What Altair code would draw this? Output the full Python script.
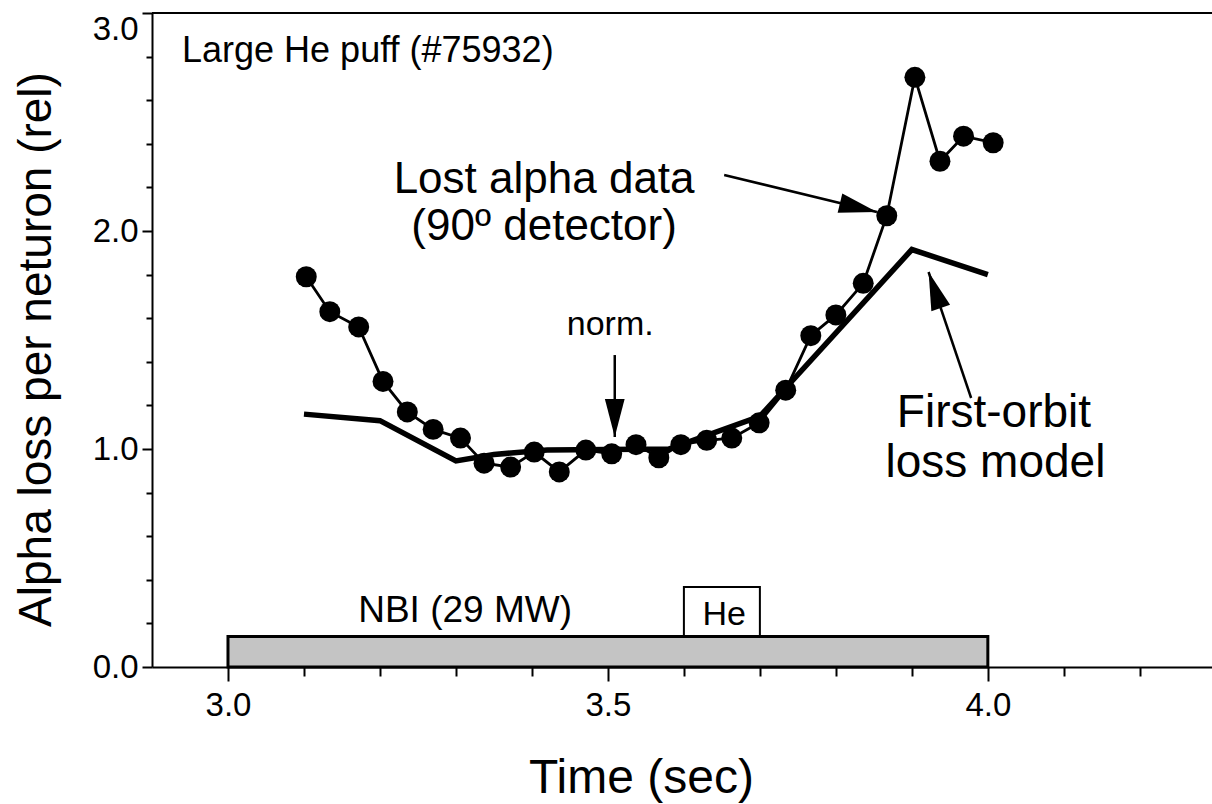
import math
import altair as alt
import pandas as pd

# ---- data ----
t_data = [3.103, 3.134, 3.172, 3.204, 3.236, 3.270, 3.306, 3.337, 3.372, 3.403,
          3.436, 3.471, 3.505, 3.537, 3.567, 3.596, 3.630, 3.663, 3.699, 3.734,
          3.767, 3.800, 3.836, 3.867, 3.904, 3.937, 3.968, 4.007]
v_data = [1.79, 1.63, 1.56, 1.31, 1.17, 1.09, 1.05, 0.935, 0.917, 0.986,
          0.895, 0.995, 0.978, 1.02, 0.96, 1.02, 1.04, 1.05, 1.12, 1.27,
          1.52, 1.615, 1.76, 2.07, 2.705, 2.32, 2.435, 2.405]

t_model = [3.10, 3.20, 3.30, 3.35, 3.42, 3.58, 3.70, 3.90, 4.00]
v_model = [1.16, 1.13, 0.945, 0.975, 0.995, 1.00, 1.15, 1.915, 1.80]

x_ticks = [3.0, 3.1, 3.2, 3.3, 3.4, 3.5, 3.6, 3.7, 3.8, 3.9, 4.0, 4.1, 4.2]
y_ticks = [0.0, 0.2, 0.4, 0.6, 0.8, 1.0, 1.2, 1.4, 1.6, 1.8, 2.0, 2.2, 2.4, 2.6, 2.8, 3.0]

nbi_start, nbi_end, nbi_level = [3.0], [4.0], [0.14]
he_start, he_end, he_bottom, he_top = [3.6], [3.7], [0.14], [0.367]

arrow_t0 = [3.653, 3.509, 3.978]
arrow_v0 = [2.257, 1.431, 1.234]
arrow_t1 = [3.854, 3.509, 3.922]
arrow_v1 = [2.087, 1.055, 1.812]

note_text = ["Lost alpha data", "(90º detector)", "norm.", "First-orbit",
             "loss model", "NBI (29 MW)", "He"]
note_t = [3.416, 3.416, 3.503, 4.008, 4.010, 3.312, 3.653]
note_v = [2.175, 1.96, 1.523, 1.101, 0.872, 0.206, 0.193]
note_size = [44, 44, 34, 46, 46, 37, 34]

title_text = ["Large He puff (#75932)"]
title_t = [2.9395]
title_v = [2.775]

# ---- layout ----
W, H = 1060, 654
XD = [2.9, 4.295]
YD = [0.0, 3.0]
FONT = "Liberation Sans"
px_x = W / (XD[1] - XD[0])
px_y = H / (YD[1] - YD[0])

xscale = alt.Scale(domain=XD, nice=False, zero=False)
yscale = alt.Scale(domain=YD, nice=False, zero=False)

xaxis = alt.Axis(
    values=x_ticks,
    labelExpr="round(datum.value*10) % 5 == 0 ? format(datum.value, '.1f') : ''",
    tickSize={"condition": {"test": "round(datum.value*10) % 5 == 0", "value": 14}, "value": 9},
    labelFontSize=33, labelPadding=8, labelFlush=False,
    title="Time (sec)", titleFontSize=48, titleFontWeight="normal",
    titleX=489, titleY=125, titleBaseline="alphabetic", titleAlign="center",
)
yaxis = alt.Axis(
    values=y_ticks,
    labelExpr="round(datum.value*5) % 5 == 0 ? format(datum.value, '.1f') : ''",
    tickSize={"condition": {"test": "round(datum.value*5) % 5 == 0", "value": 10}, "value": 6},
    labelBaseline={"condition": {"test": "datum.value > 2.99", "value": "top"}, "value": "middle"},
    labelFontSize=33, labelPadding=4, labelFlush=False,
    title="Alpha loss per neturon (rel)", titleFontSize=46, titleFontWeight="normal",
    titleX=-102, titleY=336, titleAngle=270, titleBaseline="alphabetic", titleAlign="center",
)


def X(f):
    return alt.X(f, type="quantitative", scale=xscale, axis=xaxis)


def Y(f):
    return alt.Y(f, type="quantitative", scale=yscale, axis=yaxis)


df_data = pd.DataFrame({"t": t_data, "v": v_data})
df_model = pd.DataFrame({"t": t_model, "v": v_model})
df_nbi = pd.DataFrame({"t": nbi_start, "t2": nbi_end, "v": [0.0], "v2": nbi_level})
df_he = pd.DataFrame({"t": he_start, "t2": he_end, "v": he_bottom, "v2": he_top})

ang = []
for a, b, c, d in zip(arrow_t0, arrow_v0, arrow_t1, arrow_v1):
    dx = (c - a) * px_x
    dy = -(d - b) * px_y
    deg = math.degrees(math.atan2(dx, -dy)) % 360
    ang.append(deg)
df_arrow = pd.DataFrame({"t": arrow_t0, "v": arrow_v0, "t2": arrow_t1, "v2": arrow_v1, "ang": ang})
df_notes = pd.DataFrame({"t": note_t, "v": note_v, "txt": note_text, "fs": note_size})
df_title = pd.DataFrame({"t": title_t, "v": title_v, "txt": title_text})

he_box = alt.Chart(df_he).mark_rect(fill="white", stroke="black", strokeWidth=2).encode(
    x=X("t"), x2="t2", y=Y("v"), y2="v2")
nbi_bar = alt.Chart(df_nbi).mark_rect(fill="#c4c4c4", stroke="black", strokeWidth=3).encode(
    x=X("t"), x2="t2", y=Y("v"), y2="v2")
top_line = alt.Chart(pd.DataFrame({"v": [YD[1]]})).mark_rule(color="black", strokeWidth=2).encode(
    y=Y("v"))
model_line = alt.Chart(df_model).mark_line(color="black", strokeWidth=5.5, strokeJoin="miter").encode(
    x=X("t"), y=Y("v"))
data_line = alt.Chart(df_data).mark_line(color="black", strokeWidth=2.8).encode(
    x=X("t"), y=Y("v"))
data_pts = alt.Chart(df_data).mark_circle(color="black", opacity=1, size=440).encode(
    x=X("t"), y=Y("v"))
shafts = alt.Chart(df_arrow).mark_rule(color="black", strokeWidth=2.5).encode(
    x=X("t"), y=Y("v"), x2="t2", y2="v2")
heads = alt.Chart(df_arrow).mark_point(
    shape="M0,0 L-0.26,1 L0.26,1 Z", filled=True, color="black", opacity=1, size=5776,
    strokeWidth=0).encode(
    x=X("t2"), y=Y("v2"), angle=alt.Angle("ang:Q", scale=None))
notes = alt.Chart(df_notes).mark_text(font=FONT, color="black", align="center",
                                       baseline="alphabetic").encode(
    x=X("t"), y=Y("v"), text="txt:N", size=alt.Size("fs:Q", scale=None, legend=None))
title_note = alt.Chart(df_title).mark_text(font=FONT, color="black", align="left",
                                            baseline="alphabetic", fontSize=36).encode(
    x=X("t"), y=Y("v"), text="txt:N")

chart = alt.layer(
    he_box, nbi_bar, top_line, model_line, data_line, data_pts, shafts, heads, notes, title_note
).properties(
    width=W, height=H,
    padding={"left": 152, "top": 13, "right": 0, "bottom": 137},
    autosize=alt.AutoSizeParams(type="none"),
    background="white",
).configure_view(stroke=None).configure_axis(
    grid=False, domainColor="black", domainWidth=2, tickColor="black", tickWidth=2,
    labelColor="black", titleColor="black", labelFont=FONT, titleFont=FONT,
)

chart.save("out.html", embed_options={"renderer": "svg", "actions": False})
